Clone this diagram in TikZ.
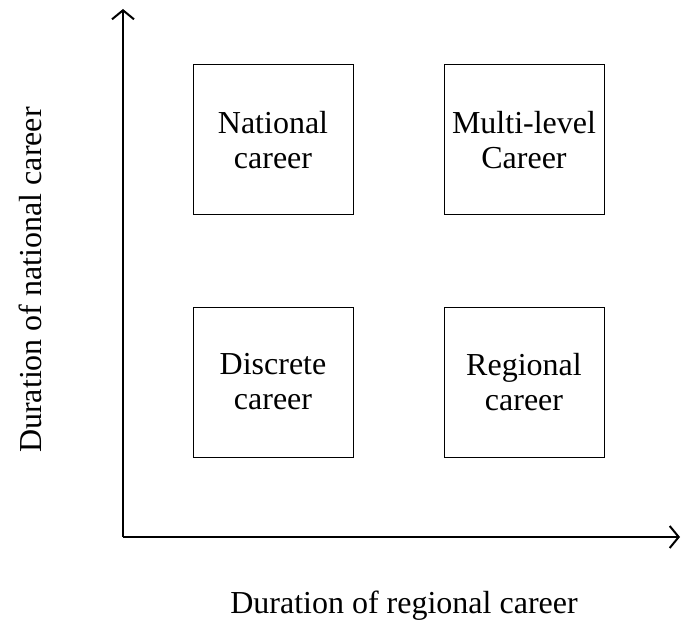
\documentclass[tikz,border=0pt]{standalone}
\usepackage{fontspec}
\setmainfont{Liberation Serif}
\usetikzlibrary{arrows.meta}
\begin{document}
\begin{tikzpicture}[x=1pt, y=-1pt,
    >={Straight Barb[length=9pt, width=22pt, line width=2pt]},
    block/.style={draw, line width=1pt, minimum width=160pt, minimum height=150pt,
        align=center, font=\fontsize{32}{35}\selectfont},
    axislabel/.style={font=\fontsize{32}{35}\selectfont}]
    \useasboundingbox (0,0) rectangle (681,623);

    % axes
    \coordinate (origin) at (123,537);
    \coordinate (ytop) at (123,9);
    \coordinate (xend) at (680,537);
    \draw[->, line width=2pt] (origin) -- (ytop);
    \draw[->, line width=2pt] (origin) -- (xend);

    % quadrants
    \node[block] (national) at (273,140) {National\\career};
    \node[block] (multi) at (524,140) {Multi-level\\Career};
    \node[block] (discrete) at (273,382) {Discrete\\career};
    \node[block] (regional) at (524,382) {Regional\\career};

    % axis labels
    \node[axislabel] (xlabel) at (404,606) {Duration of regional career};
    \node[axislabel, rotate=90] (ylabel) at (30,280) {Duration of national career};

\end{tikzpicture}
\end{document}
